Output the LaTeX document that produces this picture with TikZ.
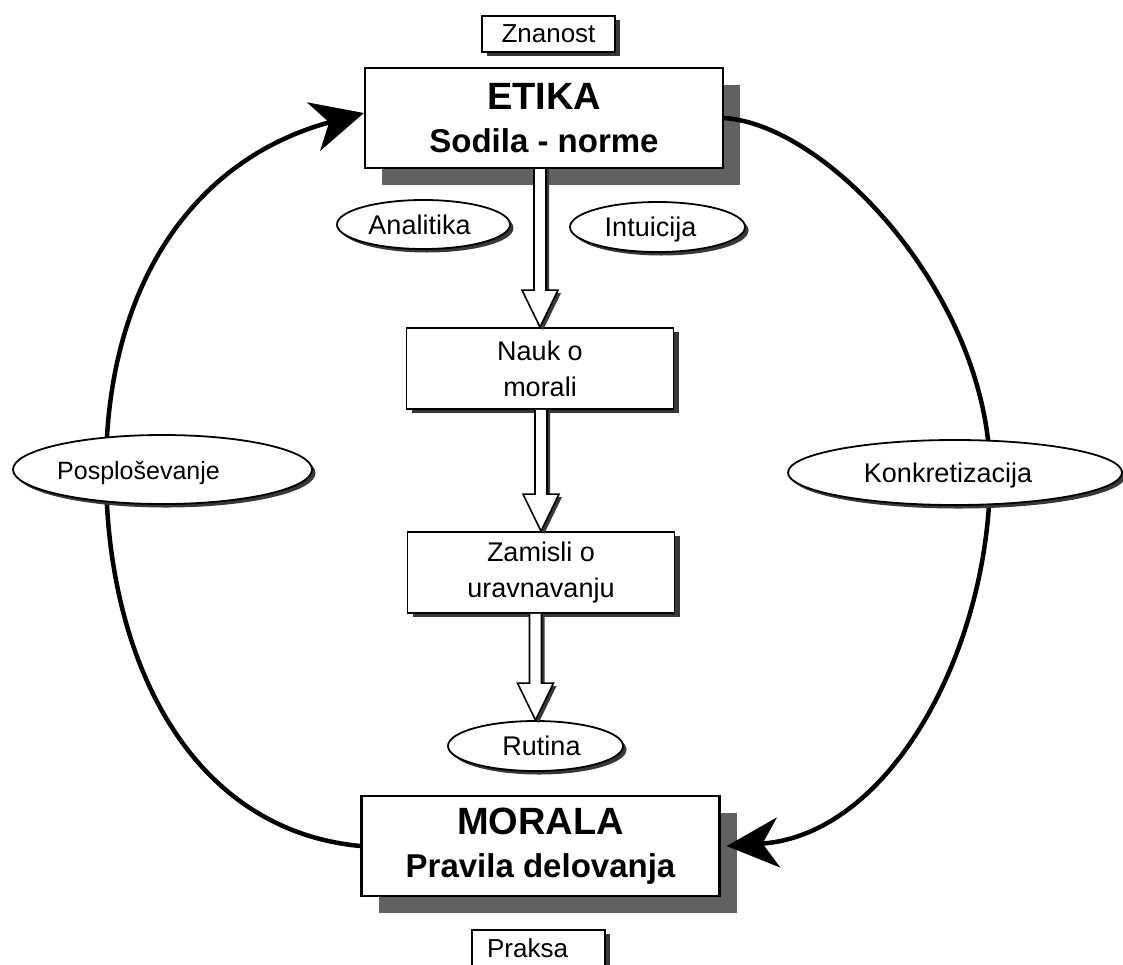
\documentclass[tikz,border=0pt]{standalone}
\usepackage{fontspec}
\setmainfont{Liberation Sans}
\usetikzlibrary{arrows.meta,shapes.geometric,shadows,calc}
\definecolor{bigshadow}{gray}{0.38}
\definecolor{smallshadow}{gray}{0.22}
\tikzset{
  bigbox/.style={draw=black, line width=2.2pt, fill=white, minimum width=358pt, minimum height=100pt,
    inner sep=0pt, align=center, font=\bfseries\fontsize{33}{43}\selectfont,
    drop shadow={shadow xshift=17pt, shadow yshift=-17pt, fill=bigshadow, opacity=1}},
  midbox/.style={draw=black, line width=1.8pt, fill=white, minimum width=267pt, minimum height=81pt,
    inner sep=0pt, align=center, font=\fontsize{27}{36}\selectfont,
    drop shadow={shadow xshift=5pt, shadow yshift=-4pt, fill=smallshadow, opacity=1}},
  tagbox/.style={draw=black, line width=1.8pt, fill=white, minimum width=133pt, minimum height=36pt,
    inner sep=0pt, font=\fontsize{26}{30}\selectfont,
    drop shadow={shadow xshift=5pt, shadow yshift=-4pt, fill=smallshadow, opacity=1}},
  oval/.style={ellipse, draw=black, line width=1.8pt, fill=white, inner sep=0pt,
    text height=19pt, text depth=0pt, font=\fontsize{27}{30}\selectfont,
    drop shadow={shadow xshift=3.5pt, shadow yshift=-3.5pt, fill=smallshadow, opacity=1}},
  cyclearc/.style={line width=4.5pt, -{Stealth[length=52pt,width=50pt,inset=16pt]}},
}
\newcommand{\hollowarrow}[2]{%
  \fill[smallshadow] let \p1=(#1.south), \p2=(#2.north) in
    (\x2-3pt,\y1) -- (\x2-3pt,\y2+34pt) -- (\x2-15pt,\y2+34pt) -- (\x2+3pt,\y2-3pt)
    -- (\x2+21pt,\y2+34pt) -- (\x2+9pt,\y2+34pt) -- (\x2+9pt,\y1) -- cycle;
  \filldraw[fill=white, draw=black, line width=1.6pt, line join=miter] let \p1=(#1.south), \p2=(#2.north) in
    (\x2-6pt,\y1) -- (\x2-6pt,\y2+37pt) -- (\x2-18pt,\y2+37pt) -- (\x2,\y2)
    -- (\x2+18pt,\y2+37pt) -- (\x2+6pt,\y2+37pt) -- (\x2+6pt,\y1);
}
\begin{document}
\begin{tikzpicture}[x=1pt,y=-1pt]
\clip (0,0) rectangle (1123,964);
\fill[white] (0,0) rectangle (1123,964);

% main boxes
\node[tagbox] (zn) at (548.5,34) {Znanost};
\node[bigbox] (etk) at (544,118) {{\fontsize{38}{43}\selectfont ETIKA}\\Sodila - norme};
\node[midbox] (nauk) at (540,368.5) {Nauk o\\morali};
\node[midbox] (zam) at (541,572.5) {Zamisli o\\uravnavanju};
\node[oval, minimum width=175pt, minimum height=50pt] (rut) at (535.5,746) {\hspace*{12pt}Rutina};
\node[bigbox] (mor) at (540.5,846) {{\fontsize{38}{43}\selectfont MORALA}\\Pravila delovanja};
\node[tagbox] (pr) at (538.5,948) {\hspace*{-22pt}Praksa};

% side ovals near the top arrow
\node[oval, minimum width=173pt, minimum height=49pt] (ana) at (423.5,224.5) {\hspace*{-8pt}Analitika};
\node[oval, minimum width=175pt, minimum height=50pt] (int) at (657.5,227) {\hspace*{-14pt}Intuicija};

% hollow arrows
\hollowarrow{etk}{nauk}
\hollowarrow{nauk}{zam}
\hollowarrow{zam}{rut}

% cycle arcs
\coordinate (lc) at (106,470);
\coordinate (rc) at (990,474);
\draw[cyclearc] (mor.west) .. controls (190,830) and (106,660) .. (lc)
  .. controls (106,290) and (190,160) .. ([yshift=5pt]etk.west);
\draw[cyclearc] (etk.east) .. controls (830,125) and (990,300) .. (rc)
  .. controls (990,650) and (890,835) .. ([xshift=6pt]mor.east);

% ovals on the arcs
\node[oval, minimum width=299pt, minimum height=69pt, font=\fontsize{25}{30}\selectfont] (pos) at (162.5,469.5) {\hspace*{-48pt}Posploševanje};
\node[oval, minimum width=334pt, minimum height=65pt] (kon) at (955,472.5) {\hspace*{-14pt}Konkretizacija};
\end{tikzpicture}
\end{document}
